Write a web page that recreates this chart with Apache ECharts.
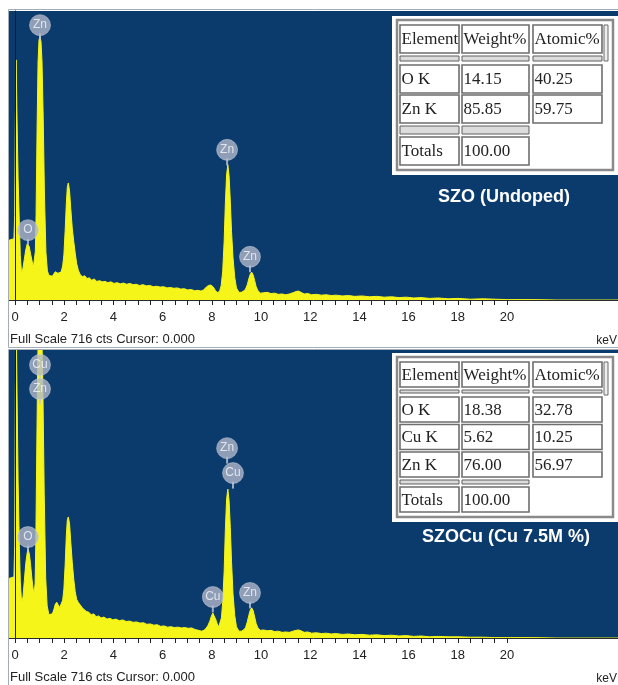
<!DOCTYPE html>
<html>
<head>
<meta charset="utf-8">
<title>EDS spectra SZO / SZOCu</title>
<script src="https://cdn.jsdelivr.net/npm/echarts@6/dist/echarts.min.js"></script>
<style>
  html, body { margin: 0; padding: 0; background: #fff; }
  #chart { width: 618px; height: 685px; }
</style>
</head>
<body>
<div id="chart"></div>
<script>
// [keV, counts]
var spectrumUndoped = [
  [-0.24,148],[-0.04,152],[-0.01,210],[0.02,450],[0.05,595],[0.08,470],[0.13,300],[0.18,190],[0.22,110],[0.26,74],
  [0.29,69],[0.33,80],[0.38,100],[0.44,124],[0.50,139],[0.53,141],[0.58,133],[0.64,113],[0.70,96],[0.75,81],
  [0.79,80],[0.83,120],[0.86,210],[0.90,420],[0.94,590],[0.98,645],[1.02,652],[1.06,640],[1.10,592],[1.15,450],
  [1.20,260],[1.26,118],[1.32,72],[1.38,61],[1.45,64],[1.52,59],[1.58,62],[1.64,70],[1.69,74],[1.75,66],[1.82,64],
  [1.88,70],[1.94,84],[1.99,112],[2.04,170],[2.09,240],[2.13,280],[2.17,290],[2.22,270],[2.27,226],[2.33,178],
  [2.39,145],[2.45,116],[2.51,90],[2.58,73],[2.66,62],[2.75,58],[2.84,60],[2.93,53],[3.02,55],[3.12,49],
  [3.22,52],[3.33,46],[3.44,48],[3.55,45],[3.66,46],[3.78,43],[3.90,45],[4.02,41],[4.15,43],[4.28,40],
  [4.41,42],[4.54,39],[4.67,41],[4.80,38],[4.93,39],[5.06,36],[5.20,38],[5.34,35],[5.48,36],[5.62,33],
  [5.76,34],[5.90,32],[6.04,33],[6.18,30],[6.32,31],[6.46,29],[6.60,30],[6.74,27],[6.88,28],[7.02,25],
  [7.16,26],[7.30,23],[7.44,24],[7.56,22],[7.66,25],[7.76,31],[7.86,36],[7.96,37],[8.06,32],[8.15,23],
  [8.24,18],[8.32,23],[8.38,36],[8.44,70],[8.50,145],[8.55,240],[8.60,310],[8.65,335],[8.70,308],[8.75,245],
  [8.80,170],[8.86,105],[8.93,56],[9.00,30],[9.10,19],[9.20,19],[9.29,22],[9.37,27],[9.44,38],[9.50,52],
  [9.56,64],[9.62,69],[9.68,62],[9.74,48],[9.80,33],[9.88,22],[9.98,17],[10.10,18],[10.25,19],[10.40,16],
  [10.55,17],[10.70,14],[10.85,15],[11.00,13],[11.15,15],[11.30,18],[11.42,21],[11.52,22],[11.62,19],[11.75,15],
  [11.90,16],[12.05,13],[12.25,14],[12.45,12],[12.65,13],[12.85,11],[13.05,12],[13.30,10],[13.55,11],[13.80,9],
  [14.10,10],[14.40,8],[14.70,9],[15.00,7],[15.30,8],[15.60,6],[15.90,7],[16.20,5],[16.50,6],[16.85,4],
  [17.20,5],[17.60,3],[18.00,4],[18.50,2],[19.00,3],[19.50,2],[20.00,1],[21.00,1],[22.00,0],[24.50,0]
];
var spectrumDoped = [
  [-0.24,148],[-0.04,152],[-0.01,230],[0.02,620],[0.05,800],[0.08,640],[0.13,390],[0.18,230],[0.22,140],[0.26,100],
  [0.29,90],[0.33,104],[0.38,140],[0.44,185],[0.50,212],[0.54,220],[0.59,208],[0.64,180],[0.69,148],[0.74,122],
  [0.78,112],[0.82,135],[0.85,240],[0.89,480],[0.93,700],[0.98,800],[1.04,800],[1.09,770],[1.14,600],[1.19,360],
  [1.25,150],[1.31,80],[1.38,58],[1.45,54],[1.52,60],[1.58,70],[1.64,84],[1.70,89],[1.76,82],[1.82,76],
  [1.88,80],[1.94,94],[1.99,122],[2.04,180],[2.09,255],[2.13,294],[2.17,301],[2.22,284],[2.27,238],[2.33,188],
  [2.39,146],[2.45,115],[2.51,96],[2.58,88],[2.65,86],[2.73,76],[2.82,70],[2.91,66],[3.00,64],[3.10,58],
  [3.20,60],[3.30,53],[3.40,55],[3.50,50],[3.62,52],[3.74,47],[3.86,49],[3.98,45],[4.10,47],[4.24,43],
  [4.38,45],[4.52,41],[4.66,42],[4.80,39],[4.94,40],[5.08,37],[5.22,38],[5.36,34],[5.50,35],[5.64,32],
  [5.78,33],[5.92,29],[6.06,30],[6.20,27],[6.34,28],[6.48,26],[6.62,27],[6.76,25],[6.90,26],[7.04,24],
  [7.18,25],[7.32,21],[7.46,19],[7.58,17],[7.68,19],[7.76,24],[7.84,31],[7.92,42],[7.98,54],[8.04,62],
  [8.10,58],[8.16,46],[8.22,35],[8.28,28],[8.34,32],[8.39,50],[8.44,88],[8.50,165],[8.55,270],[8.60,345],
  [8.65,370],[8.70,342],[8.75,275],[8.80,190],[8.86,110],[8.93,56],[9.00,28],[9.10,17],[9.20,17],[9.29,20],
  [9.37,26],[9.44,40],[9.50,56],[9.56,69],[9.62,75],[9.68,68],[9.74,52],[9.80,36],[9.88,24],[9.98,19],
  [10.10,20],[10.25,18],[10.40,19],[10.55,16],[10.70,17],[10.85,14],[11.00,15],[11.15,14],[11.30,17],[11.42,19],
  [11.52,20],[11.62,18],[11.75,14],[11.90,15],[12.05,12],[12.25,13],[12.45,11],[12.65,12],[12.85,10],[13.05,11],
  [13.30,9],[13.55,10],[13.80,8],[14.10,9],[14.40,7],[14.70,8],[15.00,6],[15.30,7],[15.60,5],[15.90,6],
  [16.20,4],[16.50,5],[16.85,3],[17.20,4],[17.60,3],[18.00,3],[18.50,2],[19.00,2],[19.50,1],[20.00,1],
  [21.00,1],[22.00,0],[24.50,0]
];

// peak markers: element, keV, counts where the disc sits
var markNamesUndoped = ['Zn', 'O', 'Zn', 'Zn'];
var markKeVUndoped = [1.02, 0.53, 8.62, 9.55];
var markCtsUndoped = [681, 173, 372, 107];
var markNamesDoped = ['Cu', 'Zn', 'O', 'Cu', 'Zn', 'Cu', 'Zn'];
var markKeVDoped = [1.02, 1.02, 0.53, 8.04, 8.62, 8.86, 9.55];
var markCtsDoped = [679, 619, 251, 102, 472, 410, 112];

// quantification tables
var tableUndoped = [
  ['Element', 'Weight%', 'Atomic%'],
  ['O K', '14.15', '40.25'],
  ['Zn K', '85.85', '59.75'],
  ['Totals', '100.00']
];
var tableDoped = [
  ['Element', 'Weight%', 'Atomic%'],
  ['O K', '18.38', '32.78'],
  ['Cu K', '5.62', '10.25'],
  ['Zn K', '76.00', '56.97'],
  ['Totals', '100.00']
];
var titleUndoped = 'SZO (Undoped)';
var titleDoped = 'SZOCu (Cu 7.5M %)';
var fullScale = 716;
var footText = 'Full Scale ' + fullScale + ' cts Cursor: 0.000';

var BLUE = '#0b3a6c';
var YELLOW = '#f5f51a';
var INK = '#222';

var chart = echarts.init(document.getElementById('chart'));

function markData(names, kev, cts) {
  return names.map(function (n, i) { return { name: n, value: [kev[i], cts[i]] }; });
}

// html-like table drawn with graphic rects
function tableGraphics(rows, top, rowH, pitch, sepGap, sepGap2) {
  var colX = [400, 462, 533];
  var colW = [59, 67, 69];
  var els = [];
  var nData = rows.length - 2;
  var firstRow = top + rowH + sepGap;
  var lastEnd = firstRow + (nData - 1) * pitch + rowH;
  var totTop = lastEnd + sepGap2;
  var bottom = totTop + rowH;

  els.push({ type: 'rect', shape: { x: 392, y: top - 9, width: 240, height: bottom - top + 19 },
    style: { fill: '#fff' } });
  els.push({ type: 'rect', shape: { x: 397, y: top - 5, width: 216, height: bottom - top + 10 },
    style: { fill: '#fff', stroke: '#8a8a8a', lineWidth: 2.5 } });
  // scroll stub right of the header
  els.push({ type: 'rect', shape: { x: 604, y: top, width: 4, height: rowH + 8 },
    style: { fill: '#eee', stroke: '#6a6a6a', lineWidth: 1 } });

  function cell(txt, c, y, h) {
    els.push({ type: 'rect', shape: { x: colX[c], y: y, width: colW[c], height: h },
      style: { fill: '#fff', stroke: '#6e6e6e', lineWidth: 1.6 } });
    els.push({ type: 'text', x: colX[c] + 1.5, y: y + h / 2 + 1,
      style: { text: txt, fill: INK, font: '17px "Liberation Serif", "Times New Roman", serif',
        textAlign: 'left', textVerticalAlign: 'middle' } });
  }
  function sep(c, y, h) {
    els.push({ type: 'rect', shape: { x: colX[c], y: y, width: colW[c], height: h },
      style: { fill: '#dcdcdc', stroke: '#5e5e5e', lineWidth: 1 } });
  }

  rows[0].forEach(function (t, c) { cell(t, c, top, rowH); sep(c, top + rowH + 3, sepGap - 7); });
  for (var r = 0; r < nData; r++) {
    rows[r + 1].forEach(function (t, c) { cell(t, c, firstRow + r * pitch, rowH); });
  }
  rows[rows.length - 1].forEach(function (t, c) { cell(t, c, totTop, rowH); sep(c, lastEnd + 3, sepGap2 - 6); });
  return els;
}

function panelTexts(title, titleX, titleY, footY, frameTop, frameH) {
  return [
    { type: 'rect', shape: { x: 8.5, y: frameTop, width: 620, height: frameH },
      style: { fill: 'none', stroke: '#a3adba', lineWidth: 1 }, z: 20 },
    { type: 'text', x: titleX, y: titleY,
      style: { text: title, fill: '#fff', font: 'bold 18px "Liberation Sans", Arial, sans-serif',
        textAlign: 'center', textVerticalAlign: 'middle' } },
    { type: 'text', x: 10, y: footY,
      style: { text: footText, fill: INK, font: '13px "Liberation Sans", Arial, sans-serif',
        textAlign: 'left', textVerticalAlign: 'middle' } },
    { type: 'text', x: 617, y: footY + 2,
      style: { text: 'keV', fill: INK, font: '12px "Liberation Sans", Arial, sans-serif',
        textAlign: 'right', textVerticalAlign: 'middle' } }
  ];
}

var panels = [
  { top: 11, height: 289, data: spectrumUndoped, marks: markData(markNamesUndoped, markKeVUndoped, markCtsUndoped) },
  { top: 350, height: 288, data: spectrumDoped, marks: markData(markNamesDoped, markKeVDoped, markCtsDoped) }
];

var grid = [], xAxis = [], yAxis = [], series = [];
panels.forEach(function (p, k) {
  var gMain = k * 2, gTick = k * 2 + 1;
  grid.push({ left: 9, right: 0, top: p.top, height: p.height, show: true, backgroundColor: BLUE, borderWidth: 0 });
  // tick grid spans exactly 0..20 keV (ticks stop at 20)
  grid.push({ left: 15, width: 492, top: p.top, height: p.height, show: false });

  xAxis.push({ gridIndex: gMain, type: 'value', min: -0.24, max: 24.5, z: 10,
    axisLine: { show: true, lineStyle: { color: '#2a2a2a', width: 1 } },
    axisTick: { show: false }, axisLabel: { show: false }, splitLine: { show: false } });
  xAxis.push({ gridIndex: gTick, type: 'value', min: 0, max: 20, interval: 2, z: 10,
    axisLine: { show: false },
    axisTick: { show: true, length: 5, lineStyle: { color: INK } },
    minorTick: { show: true, splitNumber: 4, length: 5, lineStyle: { color: INK } },
    axisLabel: { fontSize: 13, color: INK, margin: 11, fontFamily: '"Liberation Sans", Arial, sans-serif' },
    splitLine: { show: false } });

  yAxis.push({ gridIndex: gMain, type: 'value', min: 0, max: fullScale, show: false });
  yAxis.push({ gridIndex: gTick, type: 'value', min: 0, max: fullScale, z: 10,
    axisLine: { show: true, lineStyle: { color: '#1a1a1a', width: 1 } },
    axisTick: { show: false }, axisLabel: { show: false }, splitLine: { show: false } });

  series.push({
    type: 'line', xAxisIndex: gMain, yAxisIndex: gMain, data: p.data,
    showSymbol: false, symbol: 'none', clip: true,
    lineStyle: { color: YELLOW, width: 1 },
    areaStyle: { color: YELLOW, opacity: 1 },
    itemStyle: { color: YELLOW }, z: 2
  });
  series.push({
    type: 'scatter', xAxisIndex: gMain, yAxisIndex: gMain, data: p.marks,
    symbol: 'rect', symbolSize: [2, 7], symbolOffset: [0, 12],
    itemStyle: { color: '#c3cad8' }, z: 3, silent: true
  });
  series.push({
    type: 'scatter', xAxisIndex: gMain, yAxisIndex: gMain, data: p.marks,
    symbol: 'circle', symbolSize: 21,
    itemStyle: { color: '#b0b8c9', borderColor: 'rgba(205,211,224,0.6)', borderWidth: 1 },
    label: { show: true, position: 'inside', formatter: '{b}', color: '#f4f6fa',
      fontSize: 12, fontFamily: '"Liberation Sans", Arial, sans-serif' },
    z: 4, silent: true
  });
});

var graphic = []
  .concat(panelTexts(titleUndoped, 504, 197, 339, 9.5, 338))
  .concat(panelTexts(titleDoped, 506, 537, 677, 349.5, 340))
  .concat(tableGraphics(tableUndoped, 25, 28, 30, 12, 14))
  .concat(tableGraphics(tableDoped, 362, 25, 27.5, 10, 10));

chart.setOption({
  animation: false,
  backgroundColor: '#fff',
  grid: grid,
  xAxis: xAxis,
  yAxis: yAxis,
  series: series,
  graphic: graphic
});
</script>
</body>
</html>
